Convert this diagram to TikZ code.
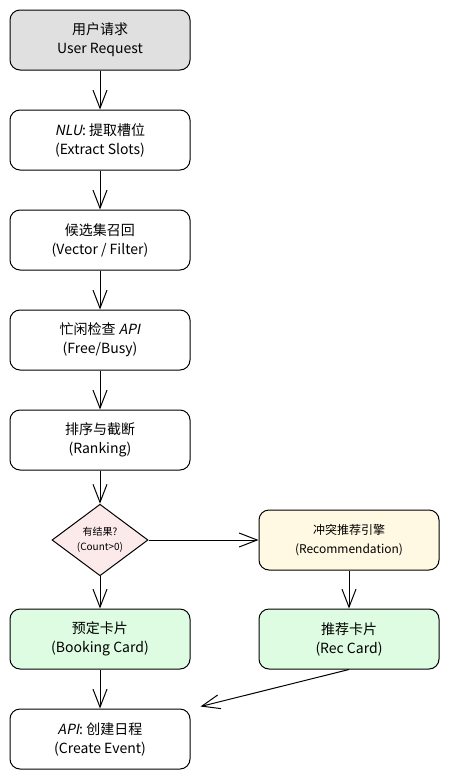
\documentclass[tikz,border=0pt]{standalone}
\usepackage{fontspec}
\setmainfont{Noto Sans CJK SC}
\newfontfamily\slantfont[FakeSlant=0.2]{Noto Sans CJK SC}
\usepackage{tikz}
\usetikzlibrary{arrows.meta,shapes.geometric}
\definecolor{reqgray}{RGB}{224,224,224}
\definecolor{cardgreen}{RGB}{221,252,225}
\definecolor{recyellow}{RGB}{255,248,226}
\definecolor{checkpink}{RGB}{252,234,234}

\tikzset{
  flowbox/.style={draw, line width=1pt, fill=white, rounded corners=10pt,
    minimum width=180pt, minimum height=60pt, align=center,
    font=\fontsize{14}{19}\selectfont},
  checkbox/.style={draw, line width=1pt, diamond, fill=checkpink, inner sep=0pt,
    minimum width=96pt, minimum height=58pt, align=center,
    font=\fontsize{10}{15}\selectfont},
  flowline/.style={->, line width=1pt}
}

\begin{document}
\begin{tikzpicture}[x=1pt, y=-1pt, node distance=100pt,
    >={Straight Barb[length=18pt,width=14pt]}]
    \useasboundingbox (0,0) rectangle (450,780);

    \node[flowbox, fill=reqgray] (REQ) at (100,40) {用户请求\\User Request};
    \node[flowbox, below of=REQ] (NLU) {{\slantfont NLU}: 提取槽位\\(Extract Slots)};
    \node[flowbox, below of=NLU] (RECALL) {候选集召回\\(Vector / Filter)};
    \node[flowbox, below of=RECALL] (BUSY) {忙闲检查 {\slantfont API}\\(Free/Busy)};
    \node[flowbox, below of=BUSY] (RANK) {排序与截断\\(Ranking)};
    \node[checkbox, below of=RANK] (CHECK) {有结果?\\(Count>0)};
    \node[flowbox, fill=recyellow, font=\fontsize{12}{19}\selectfont,
          right of=CHECK, xshift=149pt] (ENGINE) {冲突推荐引擎\\(Recommendation)};
    \node[flowbox, fill=cardgreen, below of=CHECK, yshift=1pt] (BOOK) {预定卡片\\(Booking Card)};
    \node[flowbox, fill=cardgreen, below of=ENGINE, yshift=1pt] (RECCARD) {推荐卡片\\(Rec Card)};
    \node[flowbox, below of=BOOK] (EVENT) {{\slantfont API}: 创建日程\\(Create Event)};

    \draw[flowline] (REQ) -- (NLU);
    \draw[flowline] (NLU) -- (RECALL);
    \draw[flowline] (RECALL) -- (BUSY);
    \draw[flowline] (BUSY) -- (RANK);
    \draw[flowline] (RANK) -- (CHECK);
    \draw[flowline] (CHECK) -- (ENGINE);
    \draw[flowline] (CHECK) -- (BOOK);
    \draw[flowline] (ENGINE) -- (RECCARD);
    \draw[flowline] (BOOK) -- (EVENT);
    \draw[flowline] (RECCARD.south) -- ([xshift=10pt,yshift=2pt]EVENT.north east);
\end{tikzpicture}
\end{document}
